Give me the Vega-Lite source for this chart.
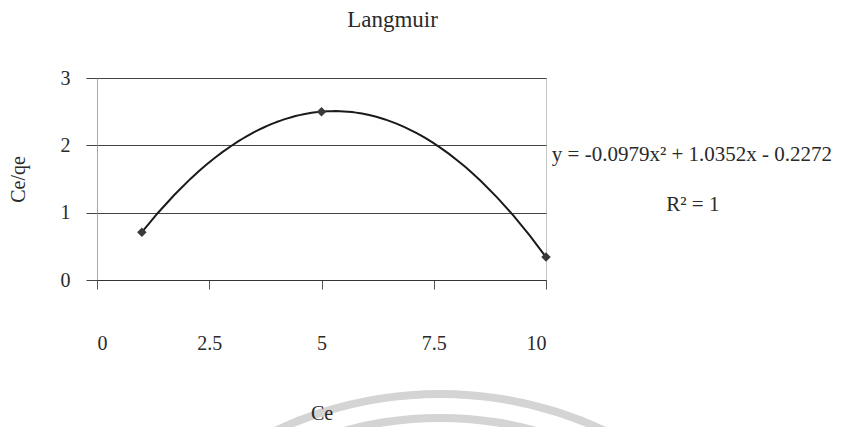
{
  "$schema": "https://vega.github.io/schema/vega-lite/v6.json",
  "width": 449,
  "height": 202,
  "autosize": "none",
  "padding": {"left": 97, "top": 78, "right": 295, "bottom": 147},
  "background": "white",
  "config": {
    "font": "Liberation Serif",
    "view": {"stroke": "#8a8a8a", "strokeDash": [1, 1], "strokeWidth": 1},
    "axis": {
      "labelFont": "Liberation Serif",
      "labelFontSize": 20,
      "labelColor": "#2a2a2a",
      "titleFont": "Liberation Serif",
      "titleFontSize": 20,
      "titleFontWeight": "normal",
      "titleColor": "#2a2a2a"
    }
  },
  "title": {
    "text": "Langmuir",
    "font": "Liberation Serif",
    "fontSize": 23,
    "fontWeight": "normal",
    "color": "#2a2a2a",
    "anchor": "middle",
    "dx": 71,
    "offset": 36
  },
  "data": {
    "values": [
      {"Ce": 1, "Ce_qe": 0.71, "equation": "y = -0.0979x² + 1.0352x - 0.2272", "r2": "R² = 1"},
      {"Ce": 5, "Ce_qe": 2.5},
      {"Ce": 10, "Ce_qe": 0.34}
    ]
  },
  "layer": [
    {
      "transform": [{"filter": "datum.equation != null"}],
      "mark": {"type": "arc", "radius": 383, "radius2": 391, "theta": -0.62, "theta2": 0.62, "color": "#d4d4d4"},
      "encoding": {
        "x": {"datum": 7.64, "type": "quantitative", "scale": {"domain": [0, 10]}},
        "y": {"datum": -7.44, "type": "quantitative", "scale": {"domain": [0, 3]}}
      }
    },
    {
      "transform": [{"filter": "datum.equation != null"}],
      "mark": {"type": "arc", "radius": 359, "radius2": 367, "theta": -0.62, "theta2": 0.62, "color": "#d4d4d4"},
      "encoding": {
        "x": {"datum": 7.64, "type": "quantitative"},
        "y": {"datum": -7.44, "type": "quantitative"}
      }
    },
    {
      "transform": [
        {"regression": "Ce_qe", "on": "Ce", "method": "poly", "order": 2, "extent": [1, 10]}
      ],
      "mark": {"type": "line", "color": "#1a1a1a", "strokeWidth": 2},
      "encoding": {
        "x": {
          "field": "Ce",
          "type": "quantitative",
          "axis": {
            "title": "Ce",
            "values": [0, 2.5, 5, 7.5, 10],
            "labelExpr": "'' + datum.value",
            "grid": false,
            "zindex": 1,
            "domainColor": "#333",
            "domainWidth": 1.2,
            "tickColor": "#555",
            "tickSize": 9,
            "labelPadding": 44,
            "titlePadding": 50
          }
        },
        "y": {
          "field": "Ce_qe",
          "type": "quantitative",
          "axis": {
            "title": "Ce/qe",
            "values": [0, 1, 2, 3],
            "labelExpr": "'' + datum.value",
            "grid": true,
            "gridColor": "#444",
            "gridWidth": 1,
            "domainColor": "#8a8a8a",
            "domainDash": [1, 1],
            "tickColor": "#444",
            "tickSize": 11,
            "labelPadding": 16,
            "titlePadding": 32
          }
        }
      }
    },
    {
      "mark": {"type": "point", "shape": "diamond", "filled": true, "color": "#3a3a3a", "size": 90, "opacity": 1},
      "encoding": {
        "x": {"field": "Ce", "type": "quantitative"},
        "y": {"field": "Ce_qe", "type": "quantitative"}
      }
    },
    {
      "transform": [{"filter": "datum.equation != null"}],
      "mark": {"type": "text", "align": "left", "baseline": "middle", "font": "Liberation Serif", "fontSize": 21, "color": "#2a2a2a"},
      "encoding": {
        "x": {"datum": 10.13, "type": "quantitative"},
        "y": {"datum": 1.86, "type": "quantitative"},
        "text": {"field": "equation"}
      }
    },
    {
      "transform": [{"filter": "datum.equation != null"}],
      "mark": {"type": "text", "align": "center", "baseline": "middle", "font": "Liberation Serif", "fontSize": 21, "color": "#2a2a2a"},
      "encoding": {
        "x": {"datum": 13.27, "type": "quantitative"},
        "y": {"datum": 1.11, "type": "quantitative"},
        "text": {"field": "r2"}
      }
    }
  ]
}
